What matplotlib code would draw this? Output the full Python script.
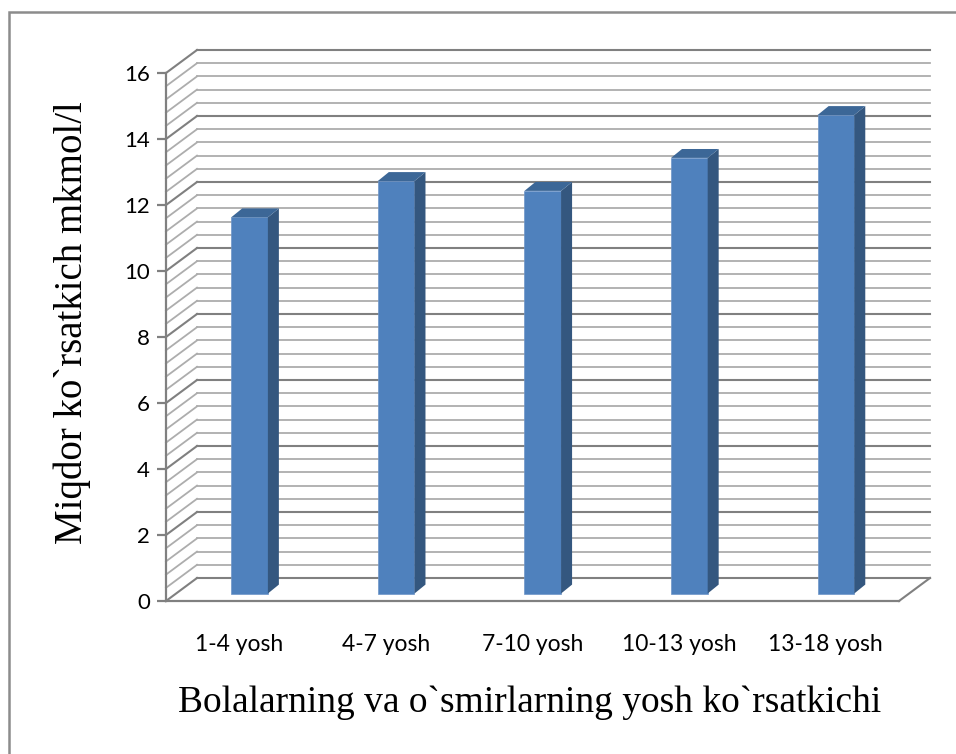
#!/usr/bin/env python3
# -*- coding: utf-8 -*-

import matplotlib
matplotlib.use('Agg')
import matplotlib.pyplot as plt
from matplotlib.patches import Polygon, Rectangle
import numpy as np

# Data
categories = ['1-4 yosh', '4-7 yosh', '7-10 yosh', '10-13 yosh', '13-18 yosh']
values = [11.4, 12.5, 12.2, 13.2, 14.5]
ylabel = 'Miqdor ko`rsatkich mkmol/l'
xlabel = 'Bolalarning va o`smirlarning yosh ko`rsatkichi'

# pseudo 3D geometry (data units)
back_dx, back_dy = 0.2115, 0.697     # depth of the walls
bar_off_x, bar_off_y = 0.07, 0.227   # bar front face position in depth
bar_w = 0.25
side_dx, side_dy = 0.075, 0.27       # bar depth

front_col = '#4f81bd'
side_col = '#34577f'
top_col = '#3c6797'
grid_minor = '#adadad'
grid_major = '#808080'

fig = plt.figure(figsize=(9.56, 7.54), dpi=100)
ax = fig.add_axes([0.17364, 0.20292, 0.79916, 0.73077])

n = len(categories)
x = np.arange(n)
x_lo, x_hi = -0.5, n - 0.5
ymax = 16

ax.set_xlim(x_lo, x_hi + back_dx)
ax.set_ylim(0, ymax + back_dy)

# walls gridlines
for v in np.arange(0, ymax + 0.001, 0.4):
    major = abs(v / 2 - round(v / 2)) < 1e-6
    c = grid_major if major else grid_minor
    lw = 1.5 if major else 1.3
    ax.plot([x_lo + back_dx, x_hi + back_dx], [v + back_dy, v + back_dy],
            color=c, lw=lw, zorder=1, clip_on=False)
    ax.plot([x_lo, x_lo + back_dx], [v, v + back_dy],
            color=c, lw=lw, zorder=1, clip_on=False)

# floor right edge
ax.plot([x_hi, x_hi + back_dx], [0, back_dy], color=grid_major, lw=1.5,
        zorder=1, clip_on=False)

# bars
fronts = ax.bar(x + bar_off_x, values, width=bar_w, bottom=bar_off_y,
                color=front_col, edgecolor='#6d95c8', linewidth=0.5, zorder=3)
for rect, v in zip(fronts, values):
    xl = rect.get_x()
    xr = xl + rect.get_width()
    b = rect.get_y()
    t = b + v
    side = Polygon([(xr, b), (xr + side_dx, b + side_dy),
                    (xr + side_dx, t + side_dy), (xr, t)],
                   closed=True, facecolor=side_col, edgecolor='none', zorder=3)
    top = Polygon([(xl, t), (xl + side_dx, t + side_dy),
                   (xr + side_dx, t + side_dy), (xr, t)],
                  closed=True, facecolor=top_col, edgecolor='none', zorder=3)
    ax.add_patch(side)
    ax.add_patch(top)

# axes
for s in ['top', 'right']:
    ax.spines[s].set_visible(False)
ax.spines['left'].set_bounds(0, ymax)
ax.spines['bottom'].set_bounds(x_lo, x_hi)
for s in ['left', 'bottom']:
    ax.spines[s].set_color(grid_major)
    ax.spines[s].set_linewidth(1.6)
    ax.spines[s].set_zorder(4)

ax.set_yticks(np.arange(0, ymax + 1, 2))
ax.set_xticks(x)
ax.set_xticklabels(categories, family='Lato', fontsize=16.5)
ax.tick_params(axis='y', direction='out', length=6.5, width=1.6,
               color=grid_major, pad=5, labelsize=16)
ax.tick_params(axis='x', length=0, pad=24)
for lab in ax.get_yticklabels():
    lab.set_family('Lato')

ax.set_ylabel(ylabel, family='Liberation Serif', fontsize=28, va='center')
ax.yaxis.set_label_coords(-0.123, 0.506)
ax.set_xlabel(xlabel, family='Liberation Serif', fontsize=27, va='center')
ax.xaxis.set_label_coords(0.4764, -0.185)

# chart border (only left and top are visible in the crop)
fig.patches.append(Rectangle((9 / 956, -0.1), 1.0, (754 - 12) / 754 + 0.1,
                             transform=fig.transFigure, fill=False,
                             edgecolor='#8c8c8c', linewidth=1.8))

plt.savefig('out.png', dpi=100)
plt.close()
